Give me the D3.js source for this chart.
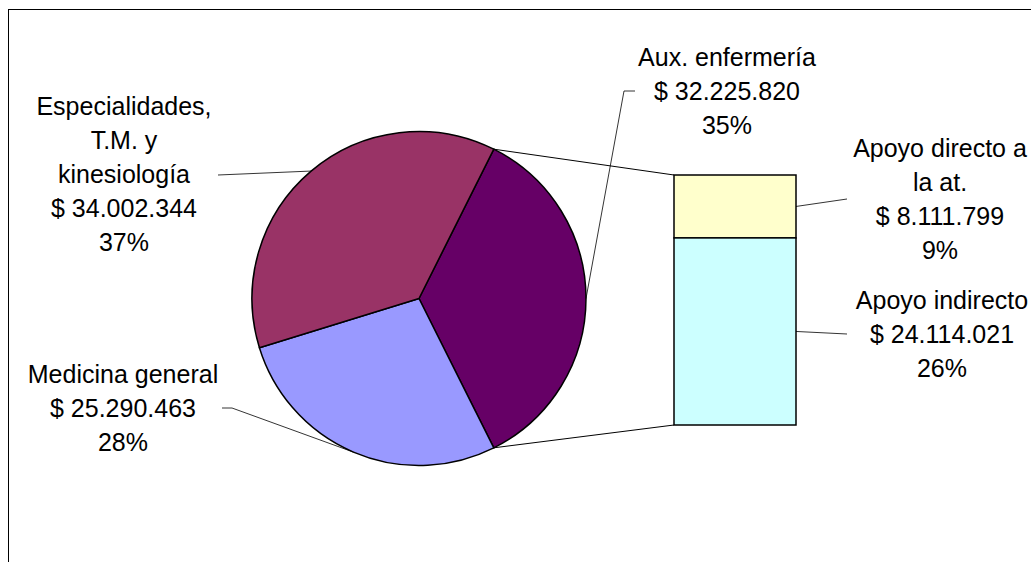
<!DOCTYPE html>
<html>
<head>
<meta charset="utf-8">
<script src="https://d3js.org/d3.v7.min.js"></script>
<title>Pie of bar</title>
<style>
  body { margin: 0; background: #fff; }
  text { font-family: Arial, "Liberation Sans", sans-serif; font-size: 25px; fill: #000; }
</style>
</head>
<body>
<div id="chart"></div>
<script>
// pie: the first slice is the combined one that is broken out into the bar
var pieNames = ["Aux. enfermería", "Medicina general", "Especialidades,\nT.M. y\nkinesiología"];
var pieValues = [32225820, 25290463, 34002344];
var pieColors = ["#660066", "#9999ff", "#993366"];

// bar: breakdown of the combined slice, top to bottom
var barNames = ["Apoyo directo a\nla at.", "Apoyo indirecto"];
var barValues = [8111799, 24114021];
var barColors = ["#ffffcc", "#ccffff"];

var width = 1031, height = 562;
var cx = 419, cy = 298.5, radius = 167;
var barX = 674, barW = 122, barTop = 175, barBottom = 425;

var total = d3.sum(pieValues);
var locale = d3.formatLocale({decimal: ",", thousands: ".", grouping: [3], currency: ["$", ""]});
var money = function(v) { return "$ " + locale.format(",")(v); };
var pct = function(v) { return Math.round(v / total * 100) + "%"; };

var svg = d3.select("#chart").append("svg")
    .attr("width", width)
    .attr("height", height);

// chart area border (runs off the right and bottom)
svg.append("rect")
    .attr("x", 8.5).attr("y", 9.5)
    .attr("width", 1100).attr("height", 600)
    .attr("fill", "#fff")
    .attr("stroke", "#000")
    .attr("stroke-width", 1);

// the combined slice is centred on 3 o'clock
var otherAngle = pieValues[0] / total * 2 * Math.PI;
var start = Math.PI / 2 - otherAngle / 2;
var pie = d3.pie().sort(null).startAngle(start).endAngle(start + 2 * Math.PI);
var arcs = pie(pieValues);
var arc = d3.arc().innerRadius(0).outerRadius(radius);

var g = svg.append("g").attr("transform", "translate(" + cx + "," + cy + ")");
g.selectAll("path")
  .data(arcs)
  .enter()
  .append("path")
    .attr("d", arc)
    .attr("fill", function(d, i) { return pieColors[i]; })
    .attr("stroke", "#000")
    .attr("stroke-width", 1.5)
    .attr("stroke-linejoin", "round");

function onCircle(a) {
  return [cx + radius * Math.sin(a), cy - radius * Math.cos(a)];
}

// stacked bar
var y = d3.scaleLinear().domain([0, d3.sum(barValues)]).range([barTop, barBottom]);
var cum = d3.cumsum(barValues);
var segs = barValues.map(function(v, i) { return {v: v, y0: cum[i] - v, y1: cum[i]}; });

// connector lines from the combined slice to the bar
var other = arcs[0];
var p1 = onCircle(other.startAngle), p2 = onCircle(other.endAngle);
svg.append("path")
    .attr("d", d3.line()([p1, [barX, y(0)]]))
    .attr("stroke", "#000").attr("stroke-width", 1).attr("fill", "none");
svg.append("path")
    .attr("d", d3.line()([p2, [barX, y(d3.sum(barValues))]]))
    .attr("stroke", "#000").attr("stroke-width", 1).attr("fill", "none");

svg.selectAll("rect.seg")
  .data(segs)
  .enter()
  .append("rect")
    .attr("class", "seg")
    .attr("x", barX)
    .attr("y", function(d) { return y(d.y0); })
    .attr("width", barW)
    .attr("height", function(d) { return y(d.y1) - y(d.y0); })
    .attr("fill", function(d, i) { return barColors[i]; })
    .attr("stroke", "#000")
    .attr("stroke-width", 1.5);

// labels
function label(x, y0, lines) {
  var t = svg.append("text").attr("text-anchor", "middle");
  lines.forEach(function(s, i) {
    t.append("tspan").attr("x", x).attr("y", y0 + i * 34).attr("dy", "0.36em").text(s);
  });
}
function leader(points) {
  svg.append("path")
      .attr("d", d3.line()(points))
      .attr("stroke", "#000").attr("stroke-width", 0.8).attr("fill", "none");
}
function lines(name, v) { return name.split("\n").concat([money(v), pct(v)]); }

var mid = function(d) { return (d.startAngle + d.endAngle) / 2; };

// combined slice
label(727, 57, lines(pieNames[0], pieValues[0]));
leader([[635, 91], [624, 91], onCircle(mid(arcs[0]))]);

// Medicina general
label(123, 374, lines(pieNames[1], pieValues[1]));
leader([[222, 408], [232, 408], onCircle(mid(arcs[1]))]);

// Especialidades
label(124, 106, lines(pieNames[2], pieValues[2]));
leader([[218, 175], onCircle(mid(arcs[2]))]);

// bar labels
label(940, 148, lines(barNames[0], barValues[0]));
leader([[barX + barW, (y(segs[0].y0) + y(segs[0].y1)) / 2], [847, 199]]);

label(942, 300, lines(barNames[1], barValues[1]));
leader([[barX + barW, (y(segs[1].y0) + y(segs[1].y1)) / 2], [847, 334]]);
</script>
</body>
</html>
